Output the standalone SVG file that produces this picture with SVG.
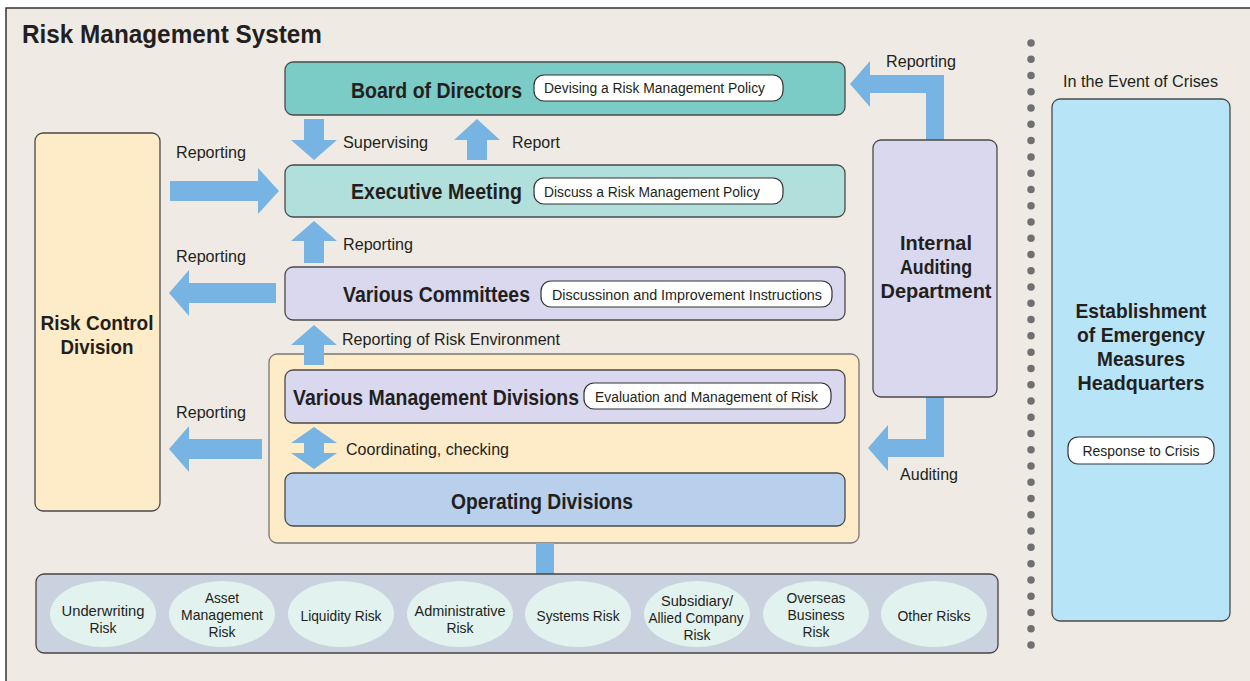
<svg xmlns="http://www.w3.org/2000/svg" width="1250" height="681" viewBox="0 0 1250 681">
<style>
text{font-family:"Liberation Sans",Arial,sans-serif;fill:#231f20}
.b{font-weight:bold}
.t22{font-size:22px;font-weight:bold}
.t20{font-size:21px;font-weight:bold}
.s{font-size:17px}
.p{font-size:15.5px}
.e{font-size:15px}
.box{stroke:#4a4a4a;stroke-width:1.3}
.pill{fill:#fff;stroke:#333;stroke-width:1.2}
.arr{fill:#78b4e3}
.ell{fill:#e2f2ef}
.m{text-anchor:middle}
</style>
<rect x="0" y="0" width="1250" height="681" fill="#fff"/>
<rect x="6" y="8" width="1250" height="680" fill="#efebe4" stroke="#333" stroke-width="1.5"/>
<text x="22" y="43" font-size="25" class="b" textLength="300" lengthAdjust="spacingAndGlyphs">Risk Management System</text>

<g id="dots">
<line x1="1031" y1="43" x2="1031" y2="646" stroke="#707070" stroke-width="7.5" stroke-linecap="round" stroke-dasharray="0 16.27"/>
</g>

<g id="divisions-container">
<rect x="269" y="354" width="590" height="189" rx="8" fill="#feebc7" stroke="#777" stroke-width="1.3"/>
</g>

<g id="connectors">
<polygon class="arr" points="304,119 324,119 324,140 337,140 314,160 291,140 304,140"/>
<polygon class="arr" points="467,160 487,160 487,140 500,140 477,119 454,140 467,140"/>
<polygon class="arr" points="304,263 324,263 324,241 337,241 314,221 291,241 304,241"/>
<polygon class="arr" points="304,365 324,365 324,345 337,345 314,325 291,345 304,345"/>
<polygon class="arr" points="314,427 337,443 324,443 324,453 337,453 314,469 291,453 304,453 304,443 291,443"/>
<polygon class="arr" points="170,181 258,181 258,168 279,191 258,214 258,201 170,201"/>
<polygon class="arr" points="276,283 189,283 189,270 169,293 189,316 189,303 276,303"/>
<polygon class="arr" points="262,439 189,439 189,426 169,449 189,472 189,459 262,459"/>
<polygon class="arr" points="926,140 926,93 870,93 870,107 850,84 870,61 870,75 944,75 944,140"/>
<polygon class="arr" points="926,396 926,439 888,439 888,425 868,448 888,471 888,457 944,457 944,396"/>
<rect class="arr" x="536" y="543" width="18" height="32"/>
<text class="s" x="343" y="148" textLength="85" lengthAdjust="spacingAndGlyphs">Supervising</text>
<text class="s" x="512" y="148" textLength="48" lengthAdjust="spacingAndGlyphs">Report</text>
<text class="s" x="176" y="158" textLength="70" lengthAdjust="spacingAndGlyphs">Reporting</text>
<text class="s" x="343" y="250" textLength="70" lengthAdjust="spacingAndGlyphs">Reporting</text>
<text class="s" x="176" y="262" textLength="70" lengthAdjust="spacingAndGlyphs">Reporting</text>
<text class="s" x="342" y="345" textLength="218" lengthAdjust="spacingAndGlyphs">Reporting of Risk Environment</text>
<text class="s" x="176" y="418" textLength="70" lengthAdjust="spacingAndGlyphs">Reporting</text>
<text class="s" x="346" y="455" textLength="163" lengthAdjust="spacingAndGlyphs">Coordinating, checking</text>
<text class="s" x="886" y="67" textLength="70" lengthAdjust="spacingAndGlyphs">Reporting</text>
<text class="s" x="900" y="480" textLength="58" lengthAdjust="spacingAndGlyphs">Auditing</text>
</g>

<g id="risk-control-division">
<rect class="box" x="35" y="133" width="125" height="378" rx="8" fill="#feebc7"/>
<text class="t20 m" x="97" y="330" textLength="113" lengthAdjust="spacingAndGlyphs">Risk Control</text>
<text class="t20 m" x="97" y="354" textLength="73" lengthAdjust="spacingAndGlyphs">Division</text>
</g>

<g id="board-of-directors">
<rect class="box" x="285" y="62" width="560" height="53" rx="8" fill="#7bcbc6"/>
<text class="t22" x="351" y="98" textLength="171" lengthAdjust="spacingAndGlyphs">Board of Directors</text>
<rect class="pill" x="534" y="75" width="249" height="26" rx="10"/>
<text class="p" x="544" y="93" textLength="221" lengthAdjust="spacingAndGlyphs">Devising a Risk Management Policy</text>
</g>

<g id="executive-meeting">
<rect class="box" x="285" y="165" width="560" height="52" rx="8" fill="#b0dfdc"/>
<text class="t22" x="351" y="199" textLength="171" lengthAdjust="spacingAndGlyphs">Executive Meeting</text>
<rect class="pill" x="534" y="178" width="249" height="26" rx="10"/>
<text class="p" x="544" y="197" textLength="216" lengthAdjust="spacingAndGlyphs">Discuss a Risk Management Policy</text>
</g>

<g id="various-committees">
<rect class="box" x="285" y="267" width="560" height="53" rx="8" fill="#dad8ee"/>
<text class="t22" x="343" y="302" textLength="187" lengthAdjust="spacingAndGlyphs">Various Committees</text>
<rect class="pill" x="541" y="281" width="291" height="26" rx="10"/>
<text class="p" x="552" y="300" textLength="270" lengthAdjust="spacingAndGlyphs">Discussinon and Improvement Instructions</text>
</g>

<g id="various-management-divisions">
<rect class="box" x="285" y="370" width="560" height="53" rx="8" fill="#dad8ee"/>
<text class="t22" x="293" y="405" textLength="286" lengthAdjust="spacingAndGlyphs">Various Management Divisions</text>
<rect class="pill" x="584" y="383" width="247" height="26" rx="10"/>
<text class="p" x="595" y="402" textLength="223" lengthAdjust="spacingAndGlyphs">Evaluation and Management of Risk</text>
</g>

<g id="operating-divisions">
<rect class="box" x="285" y="473" width="560" height="53" rx="8" fill="#b9d0ec"/>
<text class="t22" x="451" y="509" textLength="182" lengthAdjust="spacingAndGlyphs">Operating Divisions</text>
</g>

<g id="internal-auditing-department">
<rect class="box" x="873" y="140" width="124" height="257" rx="8" fill="#dad8ee"/>
<text class="t20 m" x="936" y="250" textLength="72" lengthAdjust="spacingAndGlyphs">Internal</text>
<text class="t20 m" x="936" y="274" textLength="72" lengthAdjust="spacingAndGlyphs">Auditing</text>
<text class="t20 m" x="936" y="298" textLength="111" lengthAdjust="spacingAndGlyphs">Department</text>
</g>

<g id="emergency-headquarters">
<text class="s" x="1063" y="87" textLength="155" lengthAdjust="spacingAndGlyphs">In the Event of Crises</text>
<rect class="box" x="1052" y="99" width="178" height="522" rx="8" fill="#b8e4f8"/>
<text class="t20 m" x="1141" y="318" textLength="131" lengthAdjust="spacingAndGlyphs">Establishment</text>
<text class="t20 m" x="1141" y="342" textLength="128" lengthAdjust="spacingAndGlyphs">of Emergency</text>
<text class="t20 m" x="1141" y="366" textLength="88" lengthAdjust="spacingAndGlyphs">Measures</text>
<text class="t20 m" x="1141" y="390" textLength="127" lengthAdjust="spacingAndGlyphs">Headquarters</text>
<rect class="pill" x="1068" y="437" width="146" height="27" rx="10"/>
<text class="p m" x="1141" y="456" textLength="117" lengthAdjust="spacingAndGlyphs">Response to Crisis</text>
</g>

<g id="risk-types">
<rect x="36" y="574" width="962" height="79" rx="8" fill="#cad2df" stroke="#444" stroke-width="1.3"/>
<g id="underwriting-risk">
<ellipse class="ell" cx="103" cy="614" rx="53" ry="33"/>
<text class="e m" x="103" y="616" textLength="83" lengthAdjust="spacingAndGlyphs">Underwriting</text>
<text class="e m" x="103" y="633" textLength="27" lengthAdjust="spacingAndGlyphs">Risk</text>
</g>
<g id="asset-management-risk">
<ellipse class="ell" cx="222" cy="614" rx="53" ry="33"/>
<text class="e m" x="222" y="603" textLength="34" lengthAdjust="spacingAndGlyphs">Asset</text>
<text class="e m" x="222" y="620" textLength="82" lengthAdjust="spacingAndGlyphs">Management</text>
<text class="e m" x="222" y="637" textLength="27" lengthAdjust="spacingAndGlyphs">Risk</text>
</g>
<g id="liquidity-risk">
<ellipse class="ell" cx="341" cy="614" rx="53" ry="33"/>
<text class="e m" x="341" y="621" textLength="81" lengthAdjust="spacingAndGlyphs">Liquidity Risk</text>
</g>
<g id="administrative-risk">
<ellipse class="ell" cx="460" cy="614" rx="53" ry="33"/>
<text class="e m" x="460" y="616" textLength="91" lengthAdjust="spacingAndGlyphs">Administrative</text>
<text class="e m" x="460" y="633" textLength="27" lengthAdjust="spacingAndGlyphs">Risk</text>
</g>
<g id="systems-risk">
<ellipse class="ell" cx="578" cy="614" rx="53" ry="33"/>
<text class="e m" x="578" y="621" textLength="83" lengthAdjust="spacingAndGlyphs">Systems Risk</text>
</g>
<g id="subsidiary-risk">
<ellipse class="ell" cx="697" cy="614" rx="53" ry="33"/>
<text class="e m" x="697" y="606" textLength="72" lengthAdjust="spacingAndGlyphs">Subsidiary/</text>
<text class="e m" x="696" y="623" textLength="95" lengthAdjust="spacingAndGlyphs">Allied Company</text>
<text class="e m" x="697" y="640" textLength="27" lengthAdjust="spacingAndGlyphs">Risk</text>
</g>
<g id="overseas-business-risk">
<ellipse class="ell" cx="816" cy="614" rx="53" ry="33"/>
<text class="e m" x="816" y="603" textLength="59" lengthAdjust="spacingAndGlyphs">Overseas</text>
<text class="e m" x="816" y="620" textLength="57" lengthAdjust="spacingAndGlyphs">Business</text>
<text class="e m" x="816" y="637" textLength="27" lengthAdjust="spacingAndGlyphs">Risk</text>
</g>
<g id="other-risks">
<ellipse class="ell" cx="934" cy="614" rx="53" ry="33"/>
<text class="e m" x="934" y="621" textLength="73" lengthAdjust="spacingAndGlyphs">Other Risks</text>
</g>
</g>
</svg>
